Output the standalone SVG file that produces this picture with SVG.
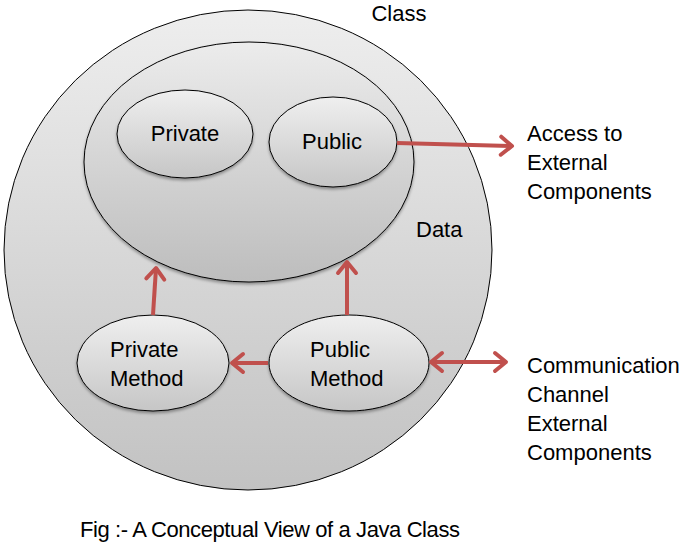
<svg xmlns="http://www.w3.org/2000/svg" width="699" height="545" viewBox="0 0 699 545">
<defs>
<linearGradient id="gOuter" x1="0" y1="0" x2="0" y2="1"><stop offset="0" stop-color="#eeeeee"/><stop offset="1" stop-color="#c2c2c2"/></linearGradient>
<linearGradient id="gInner" x1="0" y1="0" x2="0" y2="1"><stop offset="0" stop-color="#ececec"/><stop offset="1" stop-color="#bdbdbd"/></linearGradient>
<linearGradient id="gSmall" x1="0" y1="0" x2="0" y2="1"><stop offset="0" stop-color="#efefef"/><stop offset="1" stop-color="#c6c6c6"/></linearGradient>
<filter id="sh" x="-20%" y="-20%" width="140%" height="150%"><feDropShadow dx="0" dy="2" stdDeviation="1.5" flood-color="#000" flood-opacity="0.35"/></filter>
<marker id="ah" markerUnits="userSpaceOnUse" markerWidth="30" markerHeight="30" viewBox="-15 -15 30 30" refX="0" refY="0" orient="auto-start-reverse">
<path d="M-11,-9 L0,0 L-11,9" fill="none" stroke="#c0504d" stroke-width="4" stroke-linecap="round" stroke-linejoin="round"/>
</marker>
</defs>
<style>
.sh{stroke:#000;stroke-width:1}
.t{font-family:"Liberation Sans",Arial,sans-serif;font-size:22px;fill:#000}
.c{text-anchor:middle}
.arr{fill:none;stroke:#c0504d;stroke-width:4;marker-end:url(#ah)}
</style>
<g id="class">
<ellipse class="sh" cx="248" cy="250" rx="244" ry="240" fill="url(#gOuter)"/>
<text class="t c" x="399" y="21">Class</text>
</g>
<g id="data">
<ellipse class="sh" cx="249" cy="162" rx="165" ry="120" fill="url(#gInner)" filter="url(#sh)"/>
<text class="t" x="416" y="237">Data</text>
</g>
<g id="private">
<ellipse class="sh" cx="185" cy="134" rx="68" ry="44" fill="url(#gSmall)" filter="url(#sh)"/>
<text class="t c" x="185" y="141">Private</text>
</g>
<g id="public">
<ellipse class="sh" cx="333" cy="142" rx="64" ry="45" fill="url(#gSmall)" filter="url(#sh)"/>
<text class="t c" x="332" y="149">Public</text>
</g>
<g id="private-method">
<ellipse class="sh" cx="153" cy="363" rx="76" ry="48" fill="url(#gSmall)" filter="url(#sh)"/>
<text class="t" x="110" y="357">Private</text>
<text class="t" x="110" y="386">Method</text>
</g>
<g id="public-method">
<ellipse class="sh" cx="349" cy="363" rx="80" ry="48" fill="url(#gSmall)" filter="url(#sh)"/>
<text class="t" x="310" y="357">Public</text>
<text class="t" x="310" y="386">Method</text>
</g>
<g id="connectors">
<path class="arr" d="M397,143 L512,146"/>
<path class="arr" d="M153,315 L156,268"/>
<path class="arr" d="M347,315 L347,262"/>
<path class="arr" d="M268,363 L232,363"/>
<path class="arr" d="M431,362 L506,362" marker-start="url(#ah)"/>
</g>
<g id="labels">
<text class="t" x="527" y="141">Access to</text>
<text class="t" x="527" y="170">External</text>
<text class="t" x="527" y="199">Components</text>
<text class="t" x="527" y="373">Communication</text>
<text class="t" x="527" y="402">Channel</text>
<text class="t" x="527" y="431">External</text>
<text class="t" x="527" y="460">Components</text>
<text class="t" x="80" y="537" textLength="380">Fig :- A Conceptual View of a Java Class</text>
</g>
</svg>
